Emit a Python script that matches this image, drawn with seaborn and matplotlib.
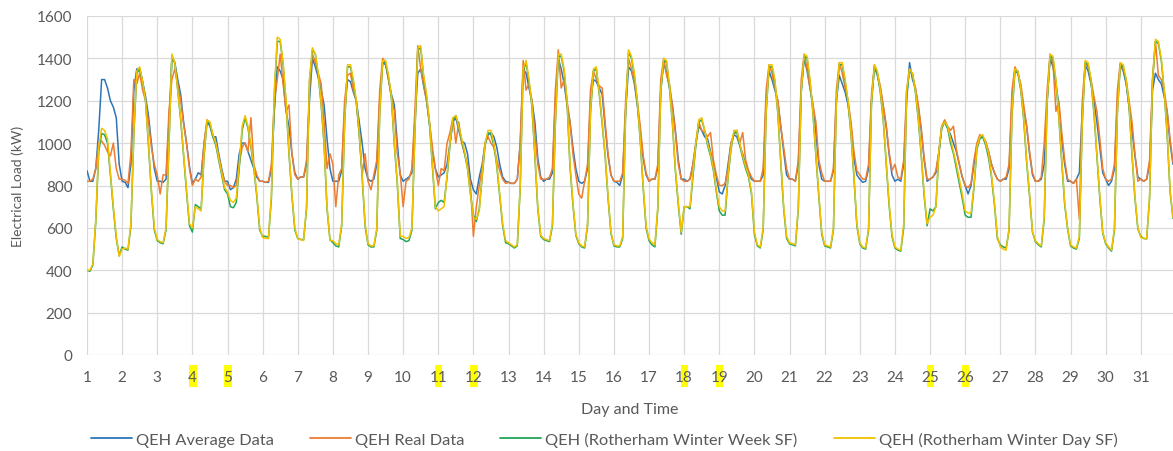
import numpy as np
import pandas as pd
import matplotlib
matplotlib.use("Agg")
import matplotlib.pyplot as plt
import matplotlib.transforms as mtransforms
from matplotlib.patches import Rectangle
import seaborn as sns

# ---------------- data (every 2 hours) ----------------
hours = [0, 2, 4, 6, 8, 10, 12, 14, 16, 18, 20, 22]
days = list(range(1, 32))
highlight_days = [4, 5, 11, 12, 18, 19, 25, 26]
y_ticks = [0, 200, 400, 600, 800, 1000, 1200, 1400, 1600]

qeh_average = [
    [870, 820, 820, 880, 1060, 1300, 1300, 1260, 1200, 1170, 1120, 900],
    [820, 815, 790, 900, 1250, 1350, 1350, 1290, 1220, 1130, 1000, 880],
    [820, 820, 815, 830, 1100, 1400, 1380, 1300, 1230, 1100, 1000, 890],
    [810, 830, 860, 850, 1000, 1100, 1080, 1030, 1030, 950, 880, 820],
    [820, 780, 790, 830, 950, 1000, 1000, 960, 920, 880, 840, 820],
    [820, 815, 815, 880, 1150, 1360, 1340, 1300, 1150, 1080, 950, 860],
    [830, 840, 840, 900, 1200, 1400, 1360, 1310, 1250, 1180, 1020, 880],
    [820, 820, 820, 870, 1150, 1300, 1290, 1240, 1200, 1100, 1000, 880],
    [830, 820, 830, 900, 1200, 1380, 1370, 1300, 1230, 1180, 1000, 850],
    [820, 830, 840, 860, 1100, 1330, 1350, 1270, 1200, 1090, 960, 880],
    [840, 850, 860, 900, 1000, 1100, 1120, 1060, 1010, 1000, 950, 830],
    [780, 760, 840, 900, 1000, 1040, 1050, 1030, 980, 900, 840, 820],
    [815, 810, 810, 830, 1000, 1350, 1330, 1260, 1200, 1100, 930, 840],
    [820, 830, 830, 860, 1200, 1400, 1350, 1280, 1180, 1100, 980, 880],
    [820, 810, 820, 880, 1200, 1300, 1290, 1260, 1230, 1080, 940, 850],
    [820, 815, 800, 850, 1150, 1360, 1340, 1280, 1180, 1060, 930, 850],
    [820, 830, 830, 880, 1250, 1380, 1330, 1260, 1180, 1060, 920, 830],
    [830, 820, 830, 900, 1000, 1080, 1060, 1030, 1020, 960, 900, 840],
    [770, 760, 800, 900, 1000, 1040, 1030, 990, 950, 900, 860, 830],
    [820, 820, 820, 850, 1200, 1340, 1300, 1250, 1200, 1080, 960, 850],
    [830, 830, 820, 900, 1250, 1400, 1340, 1260, 1180, 1050, 900, 830],
    [820, 820, 820, 870, 1200, 1320, 1280, 1240, 1180, 1080, 930, 850],
    [830, 815, 820, 880, 1200, 1360, 1320, 1260, 1170, 1080, 950, 850],
    [820, 830, 820, 900, 1200, 1380, 1300, 1260, 1170, 1060, 920, 820],
    [830, 840, 860, 950, 1080, 1100, 1070, 1040, 1000, 960, 900, 840],
    [800, 760, 800, 900, 990, 1030, 1030, 1000, 960, 900, 860, 830],
    [820, 830, 830, 880, 1200, 1350, 1340, 1260, 1160, 1080, 950, 850],
    [820, 820, 830, 900, 1200, 1400, 1360, 1280, 1180, 1020, 900, 820],
    [820, 810, 830, 860, 1150, 1370, 1340, 1280, 1200, 1100, 980, 860],
    [830, 800, 820, 880, 1200, 1370, 1340, 1280, 1170, 1060, 940, 840],
    [830, 820, 830, 900, 1250, 1330, 1300, 1280, 1220, 1150, 1000, 900],
]

qeh_real = [
    [820, 820, 830, 880, 1000, 1010, 990, 960, 940, 1000, 880, 830],
    [830, 825, 810, 950, 1300, 1280, 1330, 1250, 1200, 1100, 980, 900],
    [850, 760, 850, 850, 1150, 1300, 1350, 1280, 1200, 1090, 1000, 880],
    [800, 830, 820, 840, 1000, 1110, 1090, 1040, 1000, 940, 870, 820],
    [800, 800, 790, 800, 900, 980, 1000, 960, 1120, 900, 850, 820],
    [820, 815, 820, 900, 1200, 1300, 1420, 1280, 1150, 1180, 950, 850],
    [830, 840, 840, 920, 1250, 1420, 1380, 1330, 1280, 1100, 880, 950],
    [900, 700, 850, 880, 1200, 1320, 1330, 1250, 1200, 1050, 850, 950],
    [820, 780, 850, 920, 1250, 1400, 1380, 1300, 1220, 1150, 950, 860],
    [700, 820, 830, 880, 1150, 1460, 1350, 1280, 1200, 1100, 980, 880],
    [800, 880, 870, 1000, 1050, 1120, 1000, 1100, 1000, 950, 900, 800],
    [560, 700, 800, 880, 1000, 1030, 1000, 980, 920, 870, 830, 810],
    [815, 810, 810, 830, 1000, 1390, 1250, 1280, 1200, 1050, 900, 830],
    [830, 830, 840, 880, 1250, 1440, 1260, 1300, 1200, 1100, 950, 850],
    [760, 740, 820, 900, 1250, 1340, 1300, 1270, 1260, 1100, 950, 850],
    [820, 820, 820, 860, 1200, 1400, 1350, 1290, 1200, 1080, 940, 860],
    [820, 830, 830, 900, 1300, 1400, 1320, 1280, 1170, 1050, 900, 830],
    [820, 820, 830, 900, 1000, 1100, 1060, 1050, 1030, 1050, 920, 850],
    [800, 800, 810, 880, 1000, 1040, 1060, 1000, 1050, 920, 870, 840],
    [820, 820, 820, 880, 1250, 1370, 1330, 1260, 1200, 1080, 980, 880],
    [830, 830, 820, 920, 1300, 1420, 1350, 1260, 1180, 1100, 920, 860],
    [820, 820, 820, 880, 1250, 1380, 1330, 1260, 1200, 1100, 960, 870],
    [850, 830, 830, 900, 1230, 1370, 1330, 1270, 1180, 1090, 960, 870],
    [900, 840, 830, 920, 1250, 1350, 1320, 1260, 1180, 1070, 930, 830],
    [830, 840, 870, 960, 1080, 1110, 1080, 1060, 1080, 970, 900, 840],
    [800, 790, 810, 920, 1000, 1040, 1030, 1010, 960, 900, 860, 830],
    [820, 830, 840, 900, 1250, 1360, 1330, 1280, 1180, 1080, 960, 860],
    [820, 820, 840, 1000, 1250, 1420, 1380, 1150, 1200, 1050, 920, 830],
    [820, 810, 830, 640, 1200, 1380, 1360, 1300, 1220, 1150, 1020, 880],
    [830, 820, 830, 900, 1250, 1380, 1350, 1300, 1200, 1100, 950, 820],
    [830, 820, 830, 920, 1300, 1480, 1320, 1300, 1250, 1150, 1020, 910],
]

qeh_winter_week = [
    [400, 395, 425, 630, 960, 1045, 1040, 1000, 850, 690, 550, 470],
    [510, 500, 495, 610, 1040, 1330, 1350, 1290, 1200, 990, 770, 590],
    [540, 530, 525, 590, 990, 1410, 1380, 1250, 1110, 940, 770, 610],
    [580, 710, 700, 690, 940, 1100, 1090, 1030, 990, 920, 850, 780],
    [760, 700, 695, 720, 880, 1060, 1120, 1070, 980, 880, 750, 590],
    [560, 560, 555, 740, 1230, 1480, 1480, 1370, 1190, 950, 750, 590],
    [550, 545, 545, 690, 1290, 1440, 1420, 1320, 1180, 990, 690, 545],
    [530, 515, 510, 610, 1090, 1360, 1360, 1290, 1190, 1040, 840, 610],
    [520, 510, 510, 590, 1140, 1380, 1380, 1310, 1210, 990, 810, 550],
    [545, 535, 540, 590, 1040, 1440, 1450, 1310, 1220, 1090, 890, 690],
    [720, 730, 720, 840, 990, 1110, 1130, 1080, 1010, 950, 880, 760],
    [660, 630, 690, 840, 990, 1050, 1040, 990, 890, 750, 610, 530],
    [525, 515, 505, 515, 790, 1340, 1380, 1290, 1170, 940, 690, 560],
    [545, 540, 535, 610, 1090, 1410, 1410, 1340, 1190, 890, 710, 565],
    [525, 510, 505, 610, 1140, 1340, 1350, 1230, 1090, 940, 740, 575],
    [515, 510, 510, 550, 1140, 1430, 1400, 1320, 1190, 1010, 790, 600],
    [540, 520, 510, 690, 1240, 1390, 1380, 1260, 1090, 870, 710, 570],
    [700, 700, 690, 840, 990, 1100, 1110, 1060, 990, 940, 870, 770],
    [680, 660, 660, 840, 970, 1050, 1050, 990, 930, 880, 840, 760],
    [570, 515, 505, 590, 1140, 1360, 1360, 1290, 1140, 910, 690, 550],
    [525, 520, 515, 690, 1240, 1410, 1400, 1290, 1140, 940, 750, 570],
    [515, 510, 505, 590, 1190, 1370, 1370, 1290, 1190, 1040, 840, 610],
    [525, 505, 500, 590, 1190, 1360, 1330, 1240, 1110, 910, 710, 560],
    [505, 495, 490, 600, 1230, 1340, 1330, 1240, 1110, 940, 750, 610],
    [690, 680, 700, 950, 1070, 1100, 1070, 1000, 950, 880, 810, 740],
    [660, 650, 650, 790, 970, 1020, 1030, 990, 930, 840, 710, 550],
    [520, 510, 505, 590, 1130, 1340, 1330, 1250, 1110, 910, 750, 580],
    [535, 520, 510, 640, 1190, 1410, 1400, 1290, 1120, 910, 710, 595],
    [515, 505, 500, 550, 1090, 1380, 1370, 1290, 1140, 940, 740, 575],
    [525, 505, 490, 590, 1140, 1370, 1360, 1290, 1170, 940, 740, 595],
    [560, 550, 548, 740, 1290, 1480, 1470, 1390, 1240, 1040, 770, 645],
]

qeh_winter_day = [
    [400, 400, 430, 640, 980, 1070, 1060, 1020, 860, 700, 560, 465],
    [500, 505, 500, 620, 1050, 1340, 1360, 1290, 1200, 1000, 780, 600],
    [545, 535, 530, 600, 1000, 1420, 1380, 1250, 1120, 950, 780, 620],
    [600, 700, 690, 680, 950, 1110, 1100, 1040, 1000, 930, 860, 790],
    [770, 730, 720, 740, 900, 1080, 1130, 1080, 990, 890, 760, 600],
    [555, 550, 550, 760, 1250, 1500, 1490, 1380, 1200, 960, 760, 600],
    [548, 545, 540, 700, 1300, 1450, 1420, 1330, 1190, 1000, 700, 540],
    [540, 525, 520, 620, 1100, 1370, 1370, 1300, 1200, 1050, 850, 620],
    [525, 515, 515, 600, 1150, 1390, 1390, 1320, 1220, 1000, 820, 560],
    [560, 550, 555, 600, 1050, 1450, 1460, 1320, 1230, 1100, 900, 700],
    [680, 690, 700, 850, 1000, 1120, 1130, 1080, 1020, 960, 880, 760],
    [650, 640, 680, 850, 1000, 1060, 1060, 1000, 900, 760, 620, 540],
    [530, 520, 510, 520, 800, 1350, 1390, 1300, 1180, 950, 700, 565],
    [550, 545, 540, 620, 1100, 1420, 1420, 1350, 1200, 900, 720, 570],
    [530, 515, 510, 620, 1150, 1350, 1360, 1240, 1100, 950, 750, 580],
    [520, 515, 515, 560, 1150, 1440, 1410, 1330, 1200, 1020, 800, 610],
    [548, 530, 520, 700, 1250, 1400, 1390, 1270, 1100, 880, 720, 580],
    [700, 700, 700, 860, 1000, 1110, 1120, 1060, 1000, 950, 880, 780],
    [700, 680, 680, 850, 980, 1060, 1060, 1000, 940, 890, 850, 770],
    [580, 520, 510, 600, 1150, 1370, 1370, 1300, 1150, 920, 700, 560],
    [530, 525, 520, 700, 1250, 1420, 1410, 1300, 1150, 950, 760, 580],
    [520, 515, 510, 600, 1200, 1380, 1380, 1300, 1200, 1050, 850, 620],
    [530, 510, 505, 600, 1200, 1370, 1340, 1250, 1120, 920, 720, 570],
    [510, 500, 495, 620, 1250, 1350, 1330, 1250, 1120, 950, 760, 620],
    [650, 660, 700, 960, 1080, 1100, 1080, 1020, 960, 900, 830, 760],
    [680, 670, 670, 800, 980, 1030, 1040, 1000, 950, 850, 720, 560],
    [510, 500, 495, 600, 1150, 1350, 1340, 1260, 1120, 920, 760, 580],
    [540, 525, 515, 650, 1200, 1420, 1410, 1300, 1130, 920, 720, 600],
    [520, 510, 505, 560, 1100, 1390, 1380, 1300, 1150, 950, 750, 580],
    [530, 510, 495, 600, 1150, 1380, 1370, 1300, 1180, 950, 750, 600],
    [555, 550, 550, 750, 1300, 1490, 1480, 1400, 1250, 1050, 780, 650],
]

series_names = [
    "QEH Average Data",
    "QEH Real Data",
    "QEH (Rotherham Winter Week SF)",
    "QEH (Rotherham Winter Day SF)",
]
series_values = [qeh_average, qeh_real, qeh_winter_week, qeh_winter_day]
colors = ["#2E75B6", "#ED7D31", "#22A55A", "#F2C200"]

# ---------------- long-form table ----------------
rows = []
for name, table in zip(series_names, series_values):
    for d, day_vals in zip(days, table):
        for h, v in zip(hours, day_vals):
            rows.append({"t": d + h / 24.0, "load": v, "series": name})
df = pd.DataFrame(rows)

# ---------------- figure ----------------
sns.set_theme(style="whitegrid")
plt.rcParams["font.family"] = ["Lato", "DejaVu Sans"]

W, H = 1173, 452
fig = plt.figure(figsize=(W / 100, H / 100), dpi=100)
ax = fig.add_axes([87 / W, (H - 356) / H, (W - 87) / W, 339 / H])

sns.lineplot(
    data=df, x="t", y="load", hue="series", hue_order=series_names,
    palette=dict(zip(series_names, colors)), estimator=None, sort=False,
    linewidth=1.1, ax=ax, legend=False,
)
for line in ax.get_lines():
    line.set_solid_joinstyle("round")

ax.set_xlim(1, 31 + 22 / 24)
ax.set_ylim(0, 1600)
ax.set_yticks(y_ticks)
ax.set_xticks(days)
ax.set_xticklabels([str(d) for d in days])

ax.grid(True, color="#d9d9d9", linewidth=0.9)
for s in ax.spines.values():
    s.set_visible(False)
ax.tick_params(axis="both", length=0, labelsize=11, labelcolor="#595959")
ax.tick_params(axis="y", pad=10.5)
ax.tick_params(axis="x", pad=11)

ax.set_xlabel("Day and Time", fontsize=11.5, color="#595959", labelpad=13)
ax.set_ylabel("Electrical Load (kW)", fontsize=10, color="#595959", labelpad=9)

# yellow highlight behind weekend day labels
trans = mtransforms.blended_transform_factory(ax.transData, fig.transFigure)
for d in highlight_days:
    ax.add_patch(Rectangle((d - 0.1, (H - 388) / H), 0.22, 22 / H,
                           transform=trans, facecolor="#FFFF00",
                           edgecolor="none", clip_on=False, zorder=0))

handles = [plt.Line2D([0], [0], color=c, lw=1.3) for c in colors]
fig.legend(handles, series_names, loc="center", bbox_to_anchor=(0.515, (H - 440) / H),
           ncol=4, frameon=False, fontsize=11.8, handlelength=2.5,
           columnspacing=2.2, handletextpad=0.25, labelcolor="#595959")

fig.savefig("out.png", dpi=100)
